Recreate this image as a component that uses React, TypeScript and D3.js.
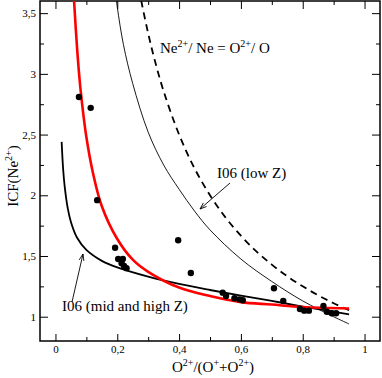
import React, { useEffect, useRef } from 'react';
import * as d3 from 'd3';

// scatter points: O2+/(O+ + O2+) and ICF(Ne2+)
const obsX = [0.076, 0.114, 0.135, 0.193, 0.203, 0.218, 0.214, 0.222, 0.23, 0.397, 0.438, 0.541, 0.552, 0.579, 0.595, 0.606, 0.707, 0.737, 0.791, 0.805, 0.82, 0.867, 0.878, 0.894, 0.908];
const obsY = [2.81, 2.72, 1.96, 1.568, 1.475, 1.475, 1.44, 1.418, 1.4, 1.63, 1.36, 1.198, 1.17, 1.152, 1.143, 1.135, 1.234, 1.13, 1.064, 1.05, 1.05, 1.088, 1.041, 1.028, 1.028];

// red curve
const redX = [0.058, 0.06, 0.07, 0.08, 0.09, 0.1, 0.12, 0.15, 0.2, 0.25, 0.3, 0.4, 0.5, 0.6, 0.7, 0.8, 0.95];
const redY = [3.7, 3.61, 3.21, 2.9, 2.67, 2.48, 2.2, 1.91, 1.64, 1.47, 1.37, 1.24, 1.17, 1.12, 1.1, 1.08, 1.068];

// I06 (mid and high Z)
const midX = [0.02, 0.025, 0.03, 0.04, 0.05, 0.07, 0.1, 0.15, 0.2, 0.3, 0.4, 0.5, 0.6, 0.7, 0.8, 0.95];
const midY = [2.44, 2.21, 2.07, 1.89, 1.78, 1.65, 1.55, 1.46, 1.406, 1.33, 1.27, 1.22, 1.174, 1.13, 1.084, 1.02];

// I06 (low Z)
const lowX = [0.19, 0.2, 0.22, 0.25, 0.3, 0.35, 0.4, 0.45, 0.5, 0.6, 0.7, 0.8, 0.9, 0.95];
const lowY = [3.75, 3.55, 3.24, 2.92, 2.52, 2.25, 2.05, 1.87, 1.715, 1.475, 1.29, 1.13, 1.0, 0.94];

// Ne2+/Ne = O2+/O
const eqX = [0.27, 0.28, 0.3, 0.32, 0.35, 0.4, 0.45, 0.5, 0.55, 0.6, 0.65, 0.7, 0.75, 0.8, 0.85, 0.9, 0.95];
const eqY = [3.7, 3.571, 3.333, 3.125, 2.857, 2.5, 2.222, 2.0, 1.818, 1.667, 1.538, 1.429, 1.333, 1.25, 1.176, 1.111, 1.053];

const xTicks = [0, 0.2, 0.4, 0.6, 0.8, 1];
const xMinor = [0.1, 0.3, 0.5, 0.7, 0.9];
const yTicks = [1, 1.5, 2, 2.5, 3, 3.5];
const yMinor = [1.25, 1.75, 2.25, 2.75, 3.25];

const FONT = "'Liberation Serif', 'Times New Roman', 'DejaVu Serif', serif";

export default function App() {
    const svgRef = useRef<SVGSVGElement>(null);
    const W = 382, H = 378;
    const margin = { top: 1, right: 2, bottom: 37, left: 40 };

    useEffect(() => {
        const svg = d3.select(svgRef.current);
        svg.selectAll('*').remove();

        const x = d3.scaleLinear().domain([-0.05, 1.05]).range([margin.left, W - margin.right]);
        const y = d3.scaleLinear().domain([0.8, 3.6]).range([H - margin.bottom, margin.top]);
        const fmt = (d: any) => String(d).replace('.', ',');

        svg.append('defs').append('clipPath').attr('id', 'plotclip')
            .append('rect')
            .attr('x', x(-0.05)).attr('y', y(3.6))
            .attr('width', x(1.05) - x(-0.05)).attr('height', y(0.8) - y(3.6));

        // axes, ticks pointing inward on all four sides
        const bottom = svg.append('g').attr('transform', `translate(0, ${y(0.8)})`)
            .call(d3.axisBottom(x).tickValues(xTicks).tickSize(-7).tickPadding(4).tickFormat(fmt));
        svg.append('g').attr('transform', `translate(0, ${y(0.8)})`)
            .call(d3.axisBottom(x).tickValues(xMinor).tickSize(-4).tickFormat(() => ''));
        svg.append('g').attr('transform', `translate(0, ${y(3.6)})`)
            .call(d3.axisTop(x).tickValues(xTicks).tickSize(-8).tickFormat(() => ''));
        svg.append('g').attr('transform', `translate(0, ${y(3.6)})`)
            .call(d3.axisTop(x).tickValues(xMinor).tickSize(-4).tickFormat(() => ''));
        const left = svg.append('g').attr('transform', `translate(${x(-0.05)}, 0)`)
            .call(d3.axisLeft(y).tickValues(yTicks).tickSize(-8).tickPadding(4).tickFormat(fmt));
        svg.append('g').attr('transform', `translate(${x(-0.05)}, 0)`)
            .call(d3.axisLeft(y).tickValues(yMinor).tickSize(-4).tickFormat(() => ''));
        svg.append('g').attr('transform', `translate(${x(1.05)}, 0)`)
            .call(d3.axisRight(y).tickValues(yTicks).tickSize(-8).tickFormat(() => ''));
        svg.append('g').attr('transform', `translate(${x(1.05)}, 0)`)
            .call(d3.axisRight(y).tickValues(yMinor).tickSize(-4).tickFormat(() => ''));

        svg.selectAll('.domain').remove();
        svg.selectAll('.tick line').attr('stroke', '#000').attr('stroke-width', 1);
        bottom.selectAll('text').style('font-family', FONT).style('font-size', '11px').attr('fill', '#000');
        left.selectAll('text').style('font-family', FONT).style('font-size', '11px').attr('fill', '#000');

        // frame
        svg.append('rect')
            .attr('x', x(-0.05)).attr('y', y(3.6))
            .attr('width', x(1.05) - x(-0.05)).attr('height', y(0.8) - y(3.6))
            .attr('fill', 'none').attr('stroke', '#000').attr('stroke-width', 1.5);

        const plot = svg.append('g').attr('clip-path', 'url(#plotclip)');
        const line = d3.line<[number, number]>()
            .x((d) => x(d[0]))
            .y((d) => y(d[1]))
            .curve(d3.curveCatmullRom);

        const zip = (a: number[], b: number[]) => a.map((v, i) => [v, b[i]] as [number, number]);

        plot.append('path').datum(zip(lowX, lowY)).attr('d', line)
            .attr('fill', 'none').attr('stroke', '#000').attr('stroke-width', 0.9);
        plot.append('path').datum(zip(eqX, eqY)).attr('d', line)
            .attr('fill', 'none').attr('stroke', '#000').attr('stroke-width', 1.8)
            .attr('stroke-dasharray', '7,5');
        plot.append('path').datum(zip(midX, midY)).attr('d', line)
            .attr('fill', 'none').attr('stroke', '#000').attr('stroke-width', 1.8);
        plot.append('path').datum(zip(redX, redY)).attr('d', line)
            .attr('fill', 'none').attr('stroke', '#ff0000').attr('stroke-width', 2.6);

        plot.selectAll('circle.obs')
            .data(zip(obsX, obsY))
            .join('circle')
            .attr('class', 'obs')
            .attr('cx', (d) => x(d[0]))
            .attr('cy', (d) => y(d[1]))
            .attr('r', 3.2)
            .attr('fill', '#000');

        // annotation arrows
        const arrow = (x1: number, y1: number, x2: number, y2: number) => {
            svg.append('line')
                .attr('x1', x1).attr('y1', y1).attr('x2', x2).attr('y2', y2)
                .attr('stroke', '#000').attr('stroke-width', 0.9);
            const a = Math.atan2(y2 - y1, x2 - x1);
            const len = 7, spread = 0.35;
            const p1 = [x2 - len * Math.cos(a - spread), y2 - len * Math.sin(a - spread)];
            const p2 = [x2 - len * Math.cos(a + spread), y2 - len * Math.sin(a + spread)];
            svg.append('path')
                .attr('d', `M${p1[0]},${p1[1]}L${x2},${y2}L${p2[0]},${p2[1]}`)
                .attr('fill', 'none').attr('stroke', '#000').attr('stroke-width', 0.9);
        };
        arrow(230, 183, 200, 209);
        arrow(72, 302, 83, 254);
    }, []);

    const sup = { fontSize: 10 };
    return (
        <div style={{ position: 'absolute', left: 0, top: 0 }}>
            <svg ref={svgRef} width={W} height={H} style={{ position: 'absolute', left: 0, top: 0 }} />
            <svg width={W} height={H} style={{ position: 'absolute', left: 0, top: 0, fontFamily: FONT }} fill="#000">
                <text x={160} y={53} style={{ fontSize: 15 }}>
                    Ne<tspan dy={-6} style={sup}>2+</tspan><tspan dy={6}>/ Ne = O</tspan>
                    <tspan dy={-6} style={sup}>2+</tspan><tspan dy={6}>/ O</tspan>
                </text>
                <text x={217} y={178} style={{ fontSize: 15 }}>I06 (low Z)</text>
                <text x={62} y={311} style={{ fontSize: 15 }}>I06 (mid and high Z)</text>
                <text x={213} y={372} textAnchor="middle" style={{ fontSize: 15 }}>
                    O<tspan dy={-6} style={sup}>2+</tspan>
                    <tspan dy={6}>/(O</tspan><tspan dy={-6} style={sup}>+</tspan>
                    <tspan dy={6}>+O</tspan><tspan dy={-6} style={sup}>2+</tspan>
                    <tspan dy={6}>)</tspan>
                </text>
                <text transform="translate(18, 176) rotate(-90)" textAnchor="middle" style={{ fontSize: 15 }}>
                    ICF(Ne<tspan dy={-6} style={sup}>2+</tspan><tspan dy={6}>)</tspan>
                </text>
            </svg>
        </div>
    );
}
